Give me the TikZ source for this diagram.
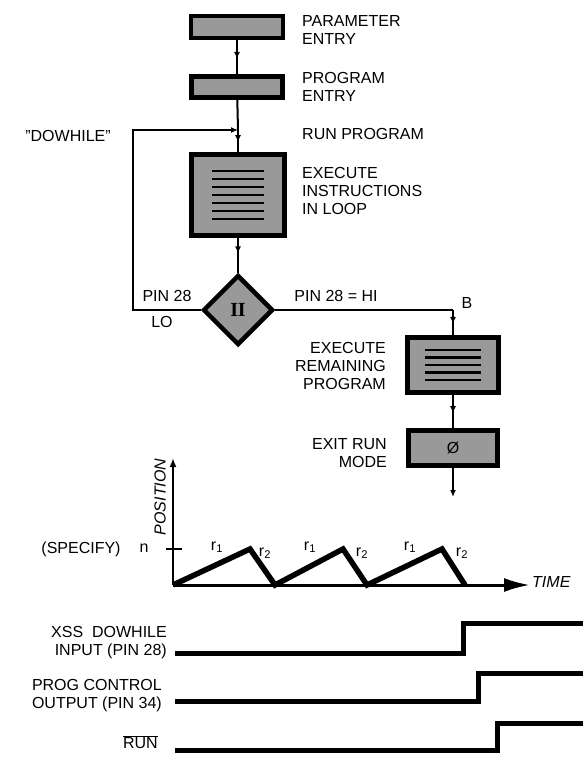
\documentclass[tikz,border=0pt]{standalone}
\usepackage{fontspec}
\setmainfont{Liberation Sans}
\newfontfamily\serifnum{Liberation Serif}
\usetikzlibrary{arrows.meta, shapes.geometric, positioning, calc, decorations.markings}
\definecolor{boxgrey}{gray}{0.6}
\newcommand{\labelfont}{\fontsize{16}{18}\selectfont}

\tikzset{
  prog/.style={draw, line width=4.5pt, fill=boxgrey, inner sep=0pt},
  decide/.style={diamond, draw, line width=4.5pt, fill=boxgrey,
                 minimum width=70pt, minimum height=70pt, inner sep=0pt},
  flow/.style={line width=2pt},
  midarrow/.style={flow, postaction={decorate},
    decoration={markings, mark=at position #1 with {\arrow{Latex[length=7pt,width=6pt]}}}},
  midarrow/.default=0.6,
  txt/.style={inner sep=0pt, font=\labelfont},
  wave/.style={line width=5pt},
}

\begin{document}
\begin{tikzpicture}[x=1pt, y=-1pt, >={Latex[length=7pt,width=6pt]}]
  \useasboundingbox (0,0) rectangle (583,757);
  % flow chart
  \node[prog, minimum width=92pt, minimum height=22pt] (param) at (237,27) {};
  \node[prog, minimum width=91pt, minimum height=21pt] (entry) at (237,87) {};
  \coordinate (join) at (238,130);
  \node[prog, minimum width=93pt, minimum height=81pt] (loop) at (238,195) {};
  \foreach \i in {-24,-16,...,24}
    \draw[line width=2.5pt] ($(loop)+(-26,\i)$) -- ($(loop)+(26,\i)$);
  \node[decide] (test) at (238,310) {\serifnum\bfseries\fontsize{20}{20}\selectfont I\kern-0.5pt I};
  \coordinate (lo) at (133,310);
  \coordinate (hi) at (453,310);
  \node[prog, minimum width=91pt, minimum height=55pt] (rest) at (453,365) {};
  \foreach \i in {-15,-7.5,...,15}
    \draw[line width=2.5pt] ($(rest)+(-28,\i)$) -- ($(rest)+(28,\i)$);
  \node[prog, minimum width=89pt, minimum height=35pt, font=\labelfont] (exit) at (453,448) {Ø};
  \coordinate (out) at (453,497);

  % connectors
  \draw[midarrow=0.55] (param) -- (entry);
  \draw[flow] (entry) -- (join);
  \draw[midarrow=0.55] (join) -- (loop);
  \draw[midarrow=0.45] (loop) -- (test);
  \draw[flow, ->] (test.west) -- (lo) |- (join);
  \draw[flow] (test.east) -- (hi);
  \draw[midarrow=0.55] (hi) -- (rest);
  \draw[midarrow=0.55] (rest) -- (exit);
  \draw[flow, ->] (exit) -- (out);

  % flow chart labels
  \node[txt, anchor=west, align=left] (paramtxt) at (302,30) {PARAMETER\\ENTRY};
  \node[txt, anchor=west, align=left] (entrytxt) at (302,87) {PROGRAM\\ENTRY};
  \node[txt, anchor=west] (runtxt) at (302,134) {RUN PROGRAM};
  \node[txt, anchor=west, align=left] (looptxt) at (302,191) {EXECUTE\\INSTRUCTIONS\\IN LOOP};
  \node[txt] (dowhile) at (68,136) {"DOWHILE"};
  \node[txt] (pinlo) at (167,296) {PIN 28};
  \node[txt] (lotxt) at (162,322) {LO};
  \node[txt] (pinhi) at (336,296) {PIN 28 = HI};
  \node[txt] (btxt) at (467,303) {B};
  \node[txt, anchor=east, align=right] (resttxt) at (386,366) {EXECUTE\\REMAINING\\PROGRAM};
  \node[txt, anchor=east, align=right] (exittxt) at (387,453) {EXIT RUN\\MODE};

  % position vs time
  \coordinate (origin) at (173,585);
  \coordinate (ptop) at (173,458);
  \coordinate (tend) at (530,585);
  \draw[line width=2.5pt, -{Latex[length=9pt,width=7pt]}] (origin) -- (ptop);
  \draw[line width=3pt, -{Latex[length=26pt,width=14pt]}] (origin) -- (tend);
  \node[txt, anchor=west, font=\labelfont\itshape] (timetxt) at (532,582) {TIME};
  \node[txt, rotate=90, font=\labelfont\itshape] (postxt) at (160,497) {POSITION};
  \draw[line width=2.5pt] (166,549) -- (182,549);
  \node[txt] (ntxt) at (144,548) {n};
  \node[txt] (spectxt) at (81,549) {(SPECIFY)};
  \draw[line width=5.5pt] (origin) -- (250,549) -- (275,585) -- (343,549)
    -- (367,585) -- (442,549) -- (465,585);
  \foreach \x in {217,310,410}
    \node[txt] at (\x,547) {r\textsubscript{1}};
  \foreach \x in {265,362,462}
    \node[txt] at (\x,553) {r\textsubscript{2}};

  % timing
  \draw[wave] (175,653) -| (463,623) -- (583,623);
  \draw[wave] (175,701) -| (478,673) -- (583,673);
  \draw[wave] (175,750) -| (497,723) -- (583,723);
  \node[txt, anchor=east, align=right] (xsstxt) at (167,643) {XSS\ \ DOWHILE\\INPUT (PIN 28)};
  \node[txt, anchor=east, align=right] (progtxt) at (162,696) {PROG CONTROL\\OUTPUT (PIN 34)};
  \node[txt, anchor=east] (runbar) at (158,742) {$\overline{\hbox{RUN}}$};
\end{tikzpicture}
\end{document}
